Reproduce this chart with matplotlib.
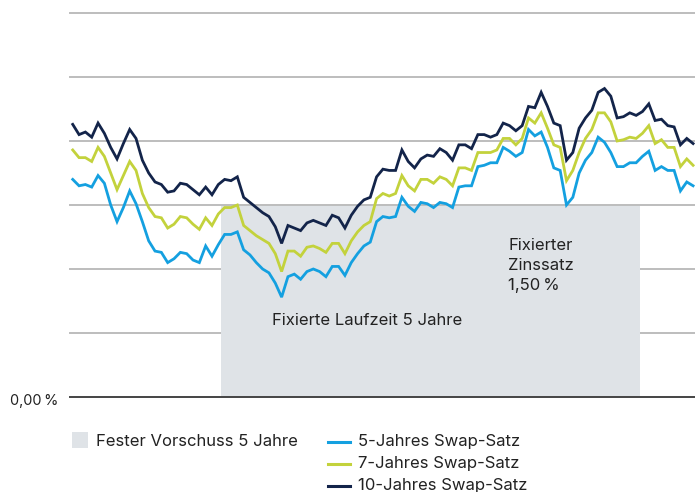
import matplotlib
matplotlib.use("Agg")
import matplotlib.pyplot as plt
from matplotlib.patches import Rectangle
from matplotlib.lines import Line2D
import numpy as np

plt.rcParams['font.family'] = ['Inter', 'DejaVu Sans']

# Swap rates in percent (monthly observations)
swap_10y = [2.13, 2.05, 2.07, 2.03, 2.14, 2.06, 1.95, 1.86, 1.98, 2.09,
            2.02, 1.85, 1.75, 1.68, 1.66, 1.60, 1.61, 1.67, 1.66, 1.62,
            1.58, 1.64, 1.58, 1.66, 1.70, 1.69, 1.72, 1.56, 1.52, 1.48,
            1.44, 1.41, 1.33, 1.20, 1.34, 1.32, 1.30, 1.36, 1.38, 1.36,
            1.34, 1.42, 1.40, 1.32, 1.42, 1.49, 1.54, 1.56, 1.72, 1.78,
            1.77, 1.77, 1.93, 1.84, 1.79, 1.86, 1.89, 1.88, 1.94, 1.91,
            1.85, 1.97, 1.97, 1.94, 2.05, 2.05, 2.03, 2.05, 2.14, 2.12,
            2.08, 2.12, 2.27, 2.26, 2.38, 2.27, 2.14, 2.12, 1.85, 1.91,
            2.10, 2.18, 2.24, 2.38, 2.41, 2.35, 2.18, 2.19, 2.22, 2.20,
            2.23, 2.29, 2.16, 2.17, 2.12, 2.11, 1.97, 2.02, 1.98]

swap_7y = [1.93, 1.87, 1.87, 1.84, 1.95, 1.88, 1.75, 1.62, 1.73, 1.84,
           1.77, 1.59, 1.48, 1.41, 1.40, 1.32, 1.35, 1.41, 1.40, 1.35,
           1.31, 1.40, 1.34, 1.43, 1.48, 1.48, 1.50, 1.34, 1.30, 1.26,
           1.23, 1.20, 1.12, 0.98, 1.14, 1.14, 1.10, 1.17, 1.18, 1.16,
           1.13, 1.20, 1.20, 1.12, 1.22, 1.29, 1.34, 1.37, 1.55, 1.59,
           1.57, 1.59, 1.73, 1.65, 1.61, 1.70, 1.70, 1.67, 1.72, 1.70,
           1.65, 1.79, 1.79, 1.77, 1.91, 1.91, 1.91, 1.93, 2.02, 2.02,
           1.97, 2.02, 2.18, 2.14, 2.22, 2.10, 1.97, 1.95, 1.69, 1.77,
           1.91, 2.02, 2.09, 2.22, 2.22, 2.15, 2.00, 2.01, 2.03, 2.02,
           2.06, 2.12, 1.98, 2.01, 1.95, 1.95, 1.80, 1.86, 1.81]

swap_5y = [1.70, 1.65, 1.66, 1.64, 1.73, 1.67, 1.50, 1.37, 1.48, 1.61,
           1.51, 1.37, 1.22, 1.14, 1.13, 1.05, 1.08, 1.13, 1.12, 1.07,
           1.05, 1.18, 1.10, 1.19, 1.27, 1.27, 1.29, 1.15, 1.11, 1.05,
           1.00, 0.97, 0.89, 0.78, 0.94, 0.96, 0.92, 0.98, 1.00, 0.98,
           0.94, 1.02, 1.02, 0.95, 1.05, 1.12, 1.18, 1.21, 1.37, 1.41,
           1.40, 1.41, 1.56, 1.49, 1.45, 1.52, 1.51, 1.48, 1.52, 1.51,
           1.48, 1.64, 1.65, 1.65, 1.80, 1.81, 1.83, 1.83, 1.95, 1.92,
           1.88, 1.91, 2.09, 2.04, 2.07, 1.95, 1.79, 1.77, 1.50, 1.56,
           1.75, 1.85, 1.91, 2.03, 1.99, 1.91, 1.80, 1.80, 1.83, 1.83,
           1.88, 1.92, 1.77, 1.80, 1.77, 1.77, 1.61, 1.68, 1.65]

fixed_rate = 1.50
fixed_start = 23.4
fixed_end = 89.6
grid_levels = [0.5, 1.0, 1.5, 2.0, 2.5, 3.0]

label_5y = "5-Jahres Swap-Satz"
label_7y = "7-Jahres Swap-Satz"
label_10y = "10-Jahres Swap-Satz"
label_fixed = "Fester Vorschuss 5 Jahre"

c5 = "#14A0E0"
c7 = "#C3D23C"
c10 = "#13244A"
c_rect = "#DFE3E7"
c_grid = "#BDBDBD"
c_text = "#222222"
fs = 12

W, H = 695, 492
fig = plt.figure(figsize=(W / 100, H / 100), dpi=100)
ax = fig.add_axes([70 / W, (H - 397) / H, 625 / W, 384 / H])

x = np.arange(len(swap_10y))
ax.set_xlim(-0.43, 98.3)
ax.set_ylim(0, 3.0)

for g in grid_levels:
    ax.axhline(g, color=c_grid, lw=1.4, zorder=0.5 if g < fixed_rate else 1.5,
               clip_on=False)
ax.axhline(0, color="#444444", lw=1.4, zorder=3, clip_on=False)

ax.add_patch(Rectangle((fixed_start, 0), fixed_end - fixed_start, fixed_rate,
                       facecolor=c_rect, edgecolor="none", zorder=1))

ax.plot(x, swap_5y, color=c5, lw=2.0, zorder=4, solid_joinstyle="miter")
ax.plot(x, swap_7y, color=c7, lw=2.0, zorder=4, solid_joinstyle="miter")
ax.plot(x, swap_10y, color=c10, lw=2.0, zorder=4, solid_joinstyle="miter")

ax.text(46.5, 0.595, "Fixierte Laufzeit 5 Jahre",
        ha="center", va="center", fontsize=fs, color=c_text, zorder=5)
ax.text(68.8, 1.03, "Fixierter\nZinssatz\n1,50\u2009%", ha="left", va="center",
        fontsize=fs, color=c_text, linespacing=1.42, zorder=5)

for s in ax.spines.values():
    s.set_visible(False)
ax.set_xticks([])
ax.set_yticks([])

fig.text(58 / W, 1 - 401 / H, "0,00\u2009%", ha="right", va="center",
         fontsize=10.4, color=c_text)

# legend (manual)
fig.patches.append(Rectangle((72 / W, 1 - 448 / H), 16 / W, 16 / H,
                             transform=fig.transFigure, facecolor=c_rect,
                             edgecolor="none"))
fig.text(96 / W, 1 - 441 / H, label_fixed, ha="left", va="center",
         fontsize=fs, color=c_text)
for yy, col, lab in [(442, c5, label_5y), (464, c7, label_7y), (486, c10, label_10y)]:
    fig.lines.append(Line2D([328 / W, 350 / W], [1 - yy / H, 1 - yy / H],
                            transform=fig.transFigure, color=col, lw=2.2))
    fig.text(358 / W, 1 - (yy - 0.5) / H, lab, ha="left", va="center",
             fontsize=fs, color=c_text)

fig.savefig("out.png", dpi=100)
